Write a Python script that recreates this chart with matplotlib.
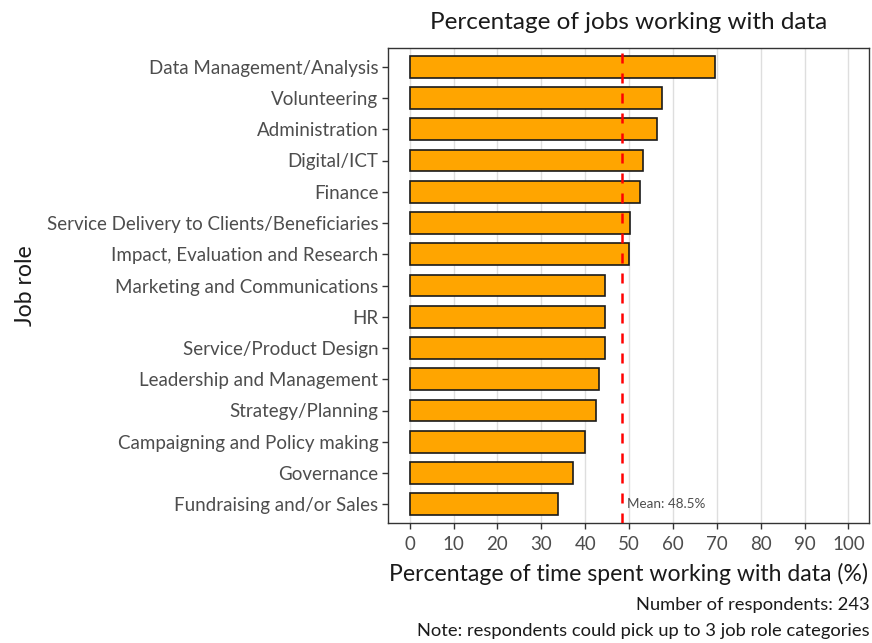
import matplotlib
matplotlib.use("Agg")
import matplotlib.pyplot as plt
import numpy as np

plt.rcParams['font.family'] = ['Lato', 'DejaVu Sans']

# Job roles, top to bottom, with average % of time spent working with data
roles = [
    "Data Management/Analysis",
    "Volunteering",
    "Administration",
    "Digital/ICT",
    "Finance",
    "Service Delivery to Clients/Beneficiaries",
    "Impact, Evaluation and Research",
    "Marketing and Communications",
    "HR",
    "Service/Product Design",
    "Leadership and Management",
    "Strategy/Planning",
    "Campaigning and Policy making",
    "Governance",
    "Fundraising and/or Sales",
]
pct_time = [69.5, 57.4, 56.3, 53.2, 52.5, 50.2, 50.0, 44.6, 44.5, 44.5,
            43.1, 42.4, 39.9, 37.2, 33.7]
mean_pct = 48.5
x_ticks = list(range(0, 101, 10))
n_respondents = 243

fig = plt.figure(figsize=(8.72, 6.43), dpi=100)
ax = fig.add_axes([388 / 872, 1 - 523 / 643, (869 - 388) / 872, (523 - 48) / 643])

ypos = np.arange(len(roles))[::-1]
ax.barh(ypos, pct_time, height=0.7, color="#FFA500", edgecolor="#1a1a1a",
        linewidth=1.2, zorder=3)

ax.axvline(mean_pct, color="#FF0000", linestyle=(0, (4, 4)), linewidth=1.8, zorder=4)
ax.text(mean_pct + 1.0, ypos[-1], f"Mean: {mean_pct}%", fontsize=9.7,
        color="#4D4D4D", va="center", ha="left", zorder=5)

ax.set_xlim(-4.95, 104.7)
ax.set_ylim(-0.6, len(roles) - 0.4)
ax.set_xticks(x_ticks)
ax.set_xticklabels([str(t) for t in x_ticks])
ax.set_yticks(ypos)
ax.set_yticklabels(roles)

ax.grid(axis="x", color="#DEDEDE", linewidth=1.0, zorder=0)
ax.grid(axis="y", visible=False)
ax.set_axisbelow(True)

for s in ax.spines.values():
    s.set_color("#333333")
    s.set_linewidth(1.0)

ax.tick_params(axis="both", colors="#333333", length=4, width=1.0,
               labelsize=13.5, labelcolor="#4D4D4D", pad=3)
ax.tick_params(axis="x", pad=5)

ax.set_xlabel("Percentage of time spent working with data (%)", fontsize=16.6,
              color="#1a1a1a", va="center")
ax.xaxis.set_label_coords(0.5, (523 - 574) / 475, transform=ax.transAxes)
ax.set_ylabel("Job role", fontsize=16.6, color="#1a1a1a", va="center")
ax.yaxis.set_label_coords((25 - 388) / 481, 0.5, transform=ax.transAxes)
ax.set_title("Percentage of jobs working with data", fontsize=17.5,
             color="#1a1a1a", pad=14)

fig.text(0.997, 1 - 605 / 643, f"Number of respondents: {n_respondents}", ha="right",
         va="center", fontsize=13.2, color="#1a1a1a")
fig.text(0.997, 1 - 631 / 643, "Note: respondents could pick up to 3 job role categories",
         ha="right", va="center", fontsize=13.2, color="#1a1a1a")

fig.savefig("out.png", dpi=100)
